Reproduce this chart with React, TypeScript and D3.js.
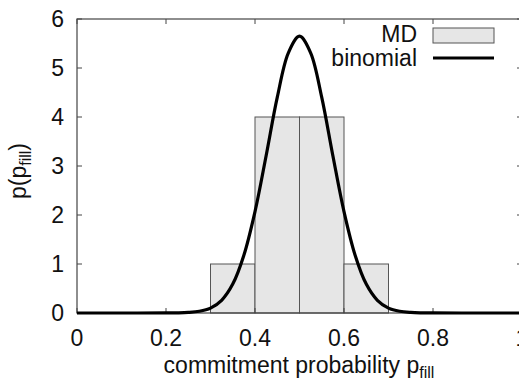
import React from "react";
import * as d3 from "d3";

const binStarts = [0.3, 0.4, 0.5, 0.6];
const binWidth = 0.1;
const mdValues = [1, 4, 4, 1];

const curveX = [0, 0.1, 0.2, 0.225, 0.25, 0.275, 0.3, 0.325, 0.35, 0.375, 0.4, 0.425, 0.45, 0.475, 0.5, 0.525, 0.55, 0.575, 0.6, 0.625, 0.65, 0.675, 0.7, 0.725, 0.75, 0.775, 0.8, 0.9, 1.0];
const curveY = [0, 0, 0.0007, 0.003, 0.011, 0.035, 0.1, 0.26, 0.59, 1.18, 2.07, 3.21, 4.4, 5.31, 5.65, 5.31, 4.4, 3.21, 2.07, 1.18, 0.59, 0.26, 0.1, 0.035, 0.011, 0.003, 0.0007, 0, 0];

const xTicks = [0, 0.2, 0.4, 0.6, 0.8, 1];
const xTickLabels = ["0", "0.2", "0.4", "0.6", "0.8", "1"];
const yTicks = [0, 1, 2, 3, 4, 5, 6];

const W = 519, H = 383;
const left = 77, right = 522, top = 19, bottom = 313;
const FONT = "'Liberation Sans', Arial, Helvetica, sans-serif";
const FS = 23;
const SUB = 16;

export default function App() {
  const x = d3.scaleLinear().domain([0, 1]).range([left, right]);
  const y = d3.scaleLinear().domain([0, 6]).range([bottom, top]);
  const line = d3.line<number>().x((_, i) => x(curveX[i])).y((d) => y(d)).curve(d3.curveCatmullRom);
  const spine = "#444";
  const tl = 5;
  return (
    <svg width={W} height={H} style={{ position: "absolute", left: 0, top: 0, background: "#fff" }} fontFamily={FONT}>
      {binStarts.map((b, i) => (
        <rect key={i} x={x(b)} y={y(mdValues[i])} width={x(b + binWidth) - x(b)} height={y(0) - y(mdValues[i])} fill="#e6e6e6" stroke="#555" strokeWidth={1} />
      ))}
      <rect x={left} y={top} width={right - left} height={bottom - top} fill="none" stroke={spine} strokeWidth={1.2} />
      {yTicks.map((t) => (
        <g key={t}>
          <line x1={left} x2={left + tl} y1={y(t)} y2={y(t)} stroke={spine} />
          <line x1={right} x2={right - tl} y1={y(t)} y2={y(t)} stroke={spine} />
          <text x={left - 13} y={y(t)} dy="0.35em" textAnchor="end" fontSize={FS} fill="#111">{t}</text>
        </g>
      ))}
      {xTicks.map((t, i) => (
        <g key={t}>
          <line x1={x(t)} x2={x(t)} y1={bottom} y2={bottom - tl} stroke={spine} />
          <line x1={x(t)} x2={x(t)} y1={top} y2={top + tl} stroke={spine} />
          <text x={x(t)} y={bottom + 25} dy="0.35em" textAnchor="middle" fontSize={FS} fill="#111">{xTickLabels[i]}</text>
        </g>
      ))}
      <path d={line(curveY) || ""} fill="none" stroke="#000" strokeWidth={3.2} />
      <text x={417} y={34} dy="0.35em" textAnchor="end" fontSize={FS} fill="#111">MD</text>
      <rect x={433} y={28} width={61} height={15} fill="#e6e6e6" stroke="#555" />
      <text x={417} y={58} dy="0.35em" textAnchor="end" fontSize={FS} fill="#111">binomial</text>
      <line x1={433} x2={494} y1={58} y2={58} stroke="#000" strokeWidth={3.2} />
      <text x={299} y={373} textAnchor="middle" fontSize={FS} fill="#111">
        commitment probability p<tspan fontSize={SUB} dy={5}>fill</tspan>
      </text>
      <text transform={`translate(26,171) rotate(-90)`} textAnchor="middle" fontSize={FS} fill="#111">
        p(p<tspan fontSize={SUB} dy={5}>fill</tspan><tspan dy={-5}>)</tspan>
      </text>
    </svg>
  );
}
